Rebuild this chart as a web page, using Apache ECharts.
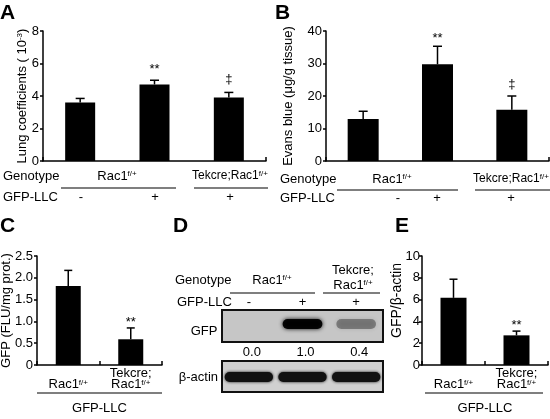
<!DOCTYPE html>
<html><head><meta charset="utf-8">
<script src="https://cdn.jsdelivr.net/npm/echarts@6/dist/echarts.min.js"></script>
<style>html,body{margin:0;padding:0;background:#fff}#c{width:550px;height:419px}</style>
</head><body><div id="c"></div>
<script>
// ---------- data ----------
// Panel A: lung coefficients (10^-3)
const catsA = ['Rac1f/+ GFP-LLC-', 'Rac1f/+ GFP-LLC+', 'Tekcre;Rac1f/+ GFP-LLC+'];
const gfpRowA = ['-', '+', '+'];
const valA = [3.6, 4.71, 3.91];
const errA = [0.25, 0.26, 0.31];
const sigA = ['', '**', '\u2021'];
// Panel B: Evans blue (ug/g tissue)
const catsB = ['Rac1f/+ GFP-LLC-', 'Rac1f/+ GFP-LLC+', 'Tekcre;Rac1f/+ GFP-LLC+'];
const gfpRowB = ['-', '+', '+'];
const valB = [12.9, 29.75, 15.8];
const errB = [2.4, 5.55, 4.2];
const sigB = ['', '**', '\u2021'];
// Panel C: GFP (FLU/mg prot.)
const catsC = ['Rac1f/+', 'Tekcre;Rac1f/+'];
const valC = [1.81, 0.59];
const errC = [0.36, 0.26];
const sigC = ['', '**'];
// Panel D: western blot, GFP/beta-actin densitometry
const lanesD = ['-', '+', '+'];
const gfpRatioD = [0.0, 1.0, 0.4];
// Panel E: GFP/beta-actin
const catsE = ['Rac1f/+', 'Tekcre;Rac1f/+'];
const valE = [6.16, 2.72];
const errE = [1.71, 0.39];
const sigE = ['', '**'];

// ---------- helpers ----------
const F = "'Liberation Sans', Arial, Helvetica, sans-serif";
const sup = {
  n: {fontSize: 13, fontFamily: F, color: '#000'},
  m: {fontSize: 12, fontFamily: F, color: '#000'},
  s: {fontSize: 8, fontFamily: F, color: '#000', verticalAlign: 'top'}
};
const rich = (s, k) => '{' + (k || 'n') + '|' + s.replace('f/+', '}{s|f/+}');
const chart = echarts.init(document.getElementById('c'));

function xCat(gi, data, extra) {
  return Object.assign({
    gridIndex: gi, type: 'category', data: data,
    axisLine: {show: true, lineStyle: {color: '#000', width: 1.5}},
    axisTick: {show: true, inside: true, length: 4, lineStyle: {color: '#000', width: 1.5}},
    axisLabel: {show: false},
    splitLine: {show: false}
  }, extra || {});
}
function yVal(gi, max, interval, name, gap, fs, fmt, pad, lm) {
  return {
    gridIndex: gi, type: 'value', min: 0, max: max, interval: interval,
    name: name, nameLocation: 'middle', nameGap: gap, nameMoveOverlap: false,
    nameTextStyle: {color: '#000', fontSize: fs, fontFamily: F, padding: pad || 0,
      rich: {n: {fontSize: fs, fontFamily: F, color: '#000'}, s: {fontSize: 8, fontFamily: F, color: '#000', verticalAlign: 'top'}}},
    axisLine: {show: true, lineStyle: {color: '#000', width: 1.5}},
    axisTick: {show: true, length: 3, lineStyle: {color: '#000', width: 1.5}},
    axisLabel: {color: '#000', fontSize: 13, fontFamily: F, margin: lm || 4, formatter: fmt},
    splitLine: {show: false}
  };
}
function bars(i, vals, bw) {
  return {type: 'bar', xAxisIndex: i, yAxisIndex: i, data: vals, barWidth: bw,
    itemStyle: {color: '#000'}, silent: true, z: 2};
}
function errs(i, vals, es, sigs, capW, gStar, gDag) {
  return {
    type: 'custom', xAxisIndex: i, yAxisIndex: i, z: 3, silent: true,
    data: vals.map((v, k) => [k, v, v + es[k]]),
    renderItem: function (params, api) {
      const top = api.coord([api.value(0), api.value(1)]);
      const hi = api.coord([api.value(0), api.value(2)]);
      const s = sigs[params.dataIndex];
      const st = {stroke: '#000', lineWidth: 1.5};
      const ch = [
        {type: 'line', shape: {x1: top[0], y1: top[1], x2: hi[0], y2: hi[1]}, style: st},
        {type: 'line', shape: {x1: hi[0] - capW / 2, y1: hi[1], x2: hi[0] + capW / 2, y2: hi[1]}, style: st}
      ];
      if (s) {
        ch.push({type: 'text', x: hi[0], y: hi[1] - (s === '**' ? gStar : gDag),
          style: {text: s, fill: '#000', font: '13px ' + F, textAlign: 'center', textVerticalAlign: 'middle'}});
      }
      return {type: 'group', children: ch};
    }
  };
}
function T(text, x, y, align, font) {
  return {type: 'text', x: x, y: y, silent: true,
    style: {text: text, fill: '#000', font: font || ('13px ' + F), rich: sup,
      textAlign: align || 'left', textVerticalAlign: 'middle'}};
}
function L(x1, y1, x2, y2) {
  return {type: 'line', silent: true, shape: {x1: x1, y1: y1, x2: x2, y2: y2},
    style: {stroke: '#000', lineWidth: 1.2}};
}
const bold = 'bold 21px ' + F;
const lowerFmt = v => v.indexOf('Tekcre') === 0 ? '{n|Tekcre;}\n' + rich(v.replace('Tekcre;', '')) : rich(v);
const lowerRich = {n: {fontSize: 13, fontFamily: F, color: '#000', lineHeight: 11}, s: {fontSize: 8, fontFamily: F, color: '#000', verticalAlign: 'top', lineHeight: 11}};

const option = {
  animation: false,
  backgroundColor: '#fff',
  grid: [
    {left: 43, top: 31, width: 223, height: 130, containLabel: false, outerBoundsMode: 'none'},
    {left: 326, top: 31, width: 223, height: 130, containLabel: false, outerBoundsMode: 'none'},
    {left: 37, top: 256, width: 125, height: 109, containLabel: false, outerBoundsMode: 'none'},
    {left: 422, top: 256, width: 126, height: 109, containLabel: false, outerBoundsMode: 'none'},
    {left: 222, top: 310, width: 161, height: 82, containLabel: false, outerBoundsMode: 'none'}
  ],
  xAxis: [
    xCat(0, catsA),
    xCat(1, catsB),
    xCat(2, catsC, {
      name: 'GFP-LLC', nameLocation: 'middle', nameGap: 37, nameMoveOverlap: false,
      nameTextStyle: {color: '#000', fontSize: 13, fontFamily: F},
      axisLabel: {show: true, interval: 0, margin: 25, verticalAlign: 'bottom', formatter: lowerFmt, rich: lowerRich}
    }),
    xCat(3, catsE, {
      name: 'GFP-LLC', nameLocation: 'middle', nameGap: 37, nameMoveOverlap: false,
      nameTextStyle: {color: '#000', fontSize: 13, fontFamily: F},
      axisLabel: {show: true, interval: 0, margin: 25, verticalAlign: 'bottom', formatter: lowerFmt, rich: lowerRich}
    }),
    {gridIndex: 4, type: 'category', data: ['l1', 'l2', 'l3'], position: 'top',
      axisLine: {show: false}, axisTick: {show: false}, splitLine: {show: false},
      axisLabel: {margin: 1, color: '#000', fontSize: 13, fontFamily: F, formatter: (v, k) => lanesD[k]}}
  ],
  yAxis: [
    yVal(0, 8, 2, '{n|Lung coefficients ( 10}{s|-3}{n|)}', 14, 13),
    yVal(1, 40, 10, 'Evans blue (\u03bcg/g tissue)', 31, 13),
    yVal(2, 2.5, 0.5, 'GFP (FLU/mg prot.)', 24, 13, v => v === 0 ? '0' : v.toFixed(1)),
    yVal(3, 10, 2, 'GFP/\u03b2-actin', 18, 14, null, [0, 0, 0, 20], 2),
    {gridIndex: 4, type: 'value', min: 0, max: 1, show: false}
  ],
  series: [
    bars(0, valA, 30), errs(0, valA, errA, sigA, 9, 10.5, 12.8),
    bars(1, valB, 31), errs(1, valB, errB, sigB, 9, 7.7, 11.7),
    bars(2, valC, 25), errs(2, valC, errC, sigC, 8, 5.5, 5.5),
    bars(3, valE, 26), errs(3, valE, errE, sigE, 8, 5.7, 5.7),
    {
      type: 'custom', xAxisIndex: 4, yAxisIndex: 4, silent: true,
      data: gfpRatioD.map((r, i) => [i, r]),
      renderItem: function (params, api) {
        const cs = params.coordSys;
        const r = api.value(1);
        const cx = api.coord([api.value(0), 0])[0];
        const w = api.size([1, 0])[0];
        const ch = [];
        if (params.dataIndex === 0) {
          ch.push({type: 'rect', shape: {x: cs.x, y: cs.y, width: cs.width, height: 32},
            style: {fill: '#c6c6c6', stroke: '#111', lineWidth: 2}});
          ch.push({type: 'rect', shape: {x: cs.x, y: cs.y + 51, width: cs.width, height: 31},
            style: {fill: '#d0d0d0', stroke: '#111', lineWidth: 2}});
        }
        if (r > 0) {
          const a = 0.95 * Math.pow(r, 1.1);
          const c = 'rgba(0,0,0,' + a.toFixed(3) + ')';
          ch.push({type: 'rect', shape: {x: cx - w * 0.37, y: cs.y + 9, width: w * 0.74, height: 10, r: 5},
            style: {fill: c, shadowBlur: 4, shadowColor: c}});
        }
        ch.push({type: 'text', x: cx + 3, y: cs.y + 42,
          style: {text: r.toFixed(1), fill: '#000', font: '13px ' + F, textAlign: 'center', textVerticalAlign: 'middle'}});
        ch.push({type: 'rect', shape: {x: cx - w * 0.45, y: cs.y + 62, width: w * 0.9, height: 10, r: 5},
          style: {fill: '#111', shadowBlur: 3, shadowColor: '#111'}});
        return {type: 'group', children: ch};
      }
    }
  ],
  graphic: [
    T('A', 0, 13, 'left', bold), T('B', 275, 13, 'left', bold),
    T('C', 0, 226, 'left', bold), T('D', 173, 226, 'left', bold), T('E', 395, 226, 'left', bold),
    // panel A rows
    T('Genotype', 3, 176), T(rich('Rac1f/+'), 117, 176, 'center'), T(rich('Tekcre;Rac1f/+', 'm'), 230, 176, 'center'),
    L(61, 188, 176, 188), L(194, 188, 268, 188),
    T('GFP-LLC', 3, 197), T(gfpRowA[0], 81, 197, 'center'), T(gfpRowA[1], 155, 197, 'center'), T(gfpRowA[2], 230, 197, 'center'),
    // panel B rows
    T('Genotype', 280, 179), T(rich('Rac1f/+'), 392, 179, 'center'), T(rich('Tekcre;Rac1f/+', 'm'), 511, 179, 'center'),
    L(337, 190, 458, 190), L(475, 190, 550, 190),
    T('GFP-LLC', 280, 198), T(gfpRowB[0], 398, 198, 'center'), T(gfpRowB[1], 437, 198, 'center'), T(gfpRowB[2], 511, 198, 'center'),
    // panel C / E underline
    L(37, 393, 162, 393), L(425, 393, 543, 393),
    // panel D rows
    T('Genotype', 175, 280), T(rich('Rac1f/+'), 272, 280, 'center'),
    T('Tekcre;', 353, 270, 'center'), T(rich('Rac1f/+'), 353, 285, 'center'),
    L(230, 293, 315, 293), L(323, 293, 380, 293),
    T('GFP-LLC', 177, 302),
    T('GFP', 204, 331, 'center'), T('\u03b2-actin', 218, 377, 'right')
  ]
};
chart.setOption(option);
</script></body></html>
